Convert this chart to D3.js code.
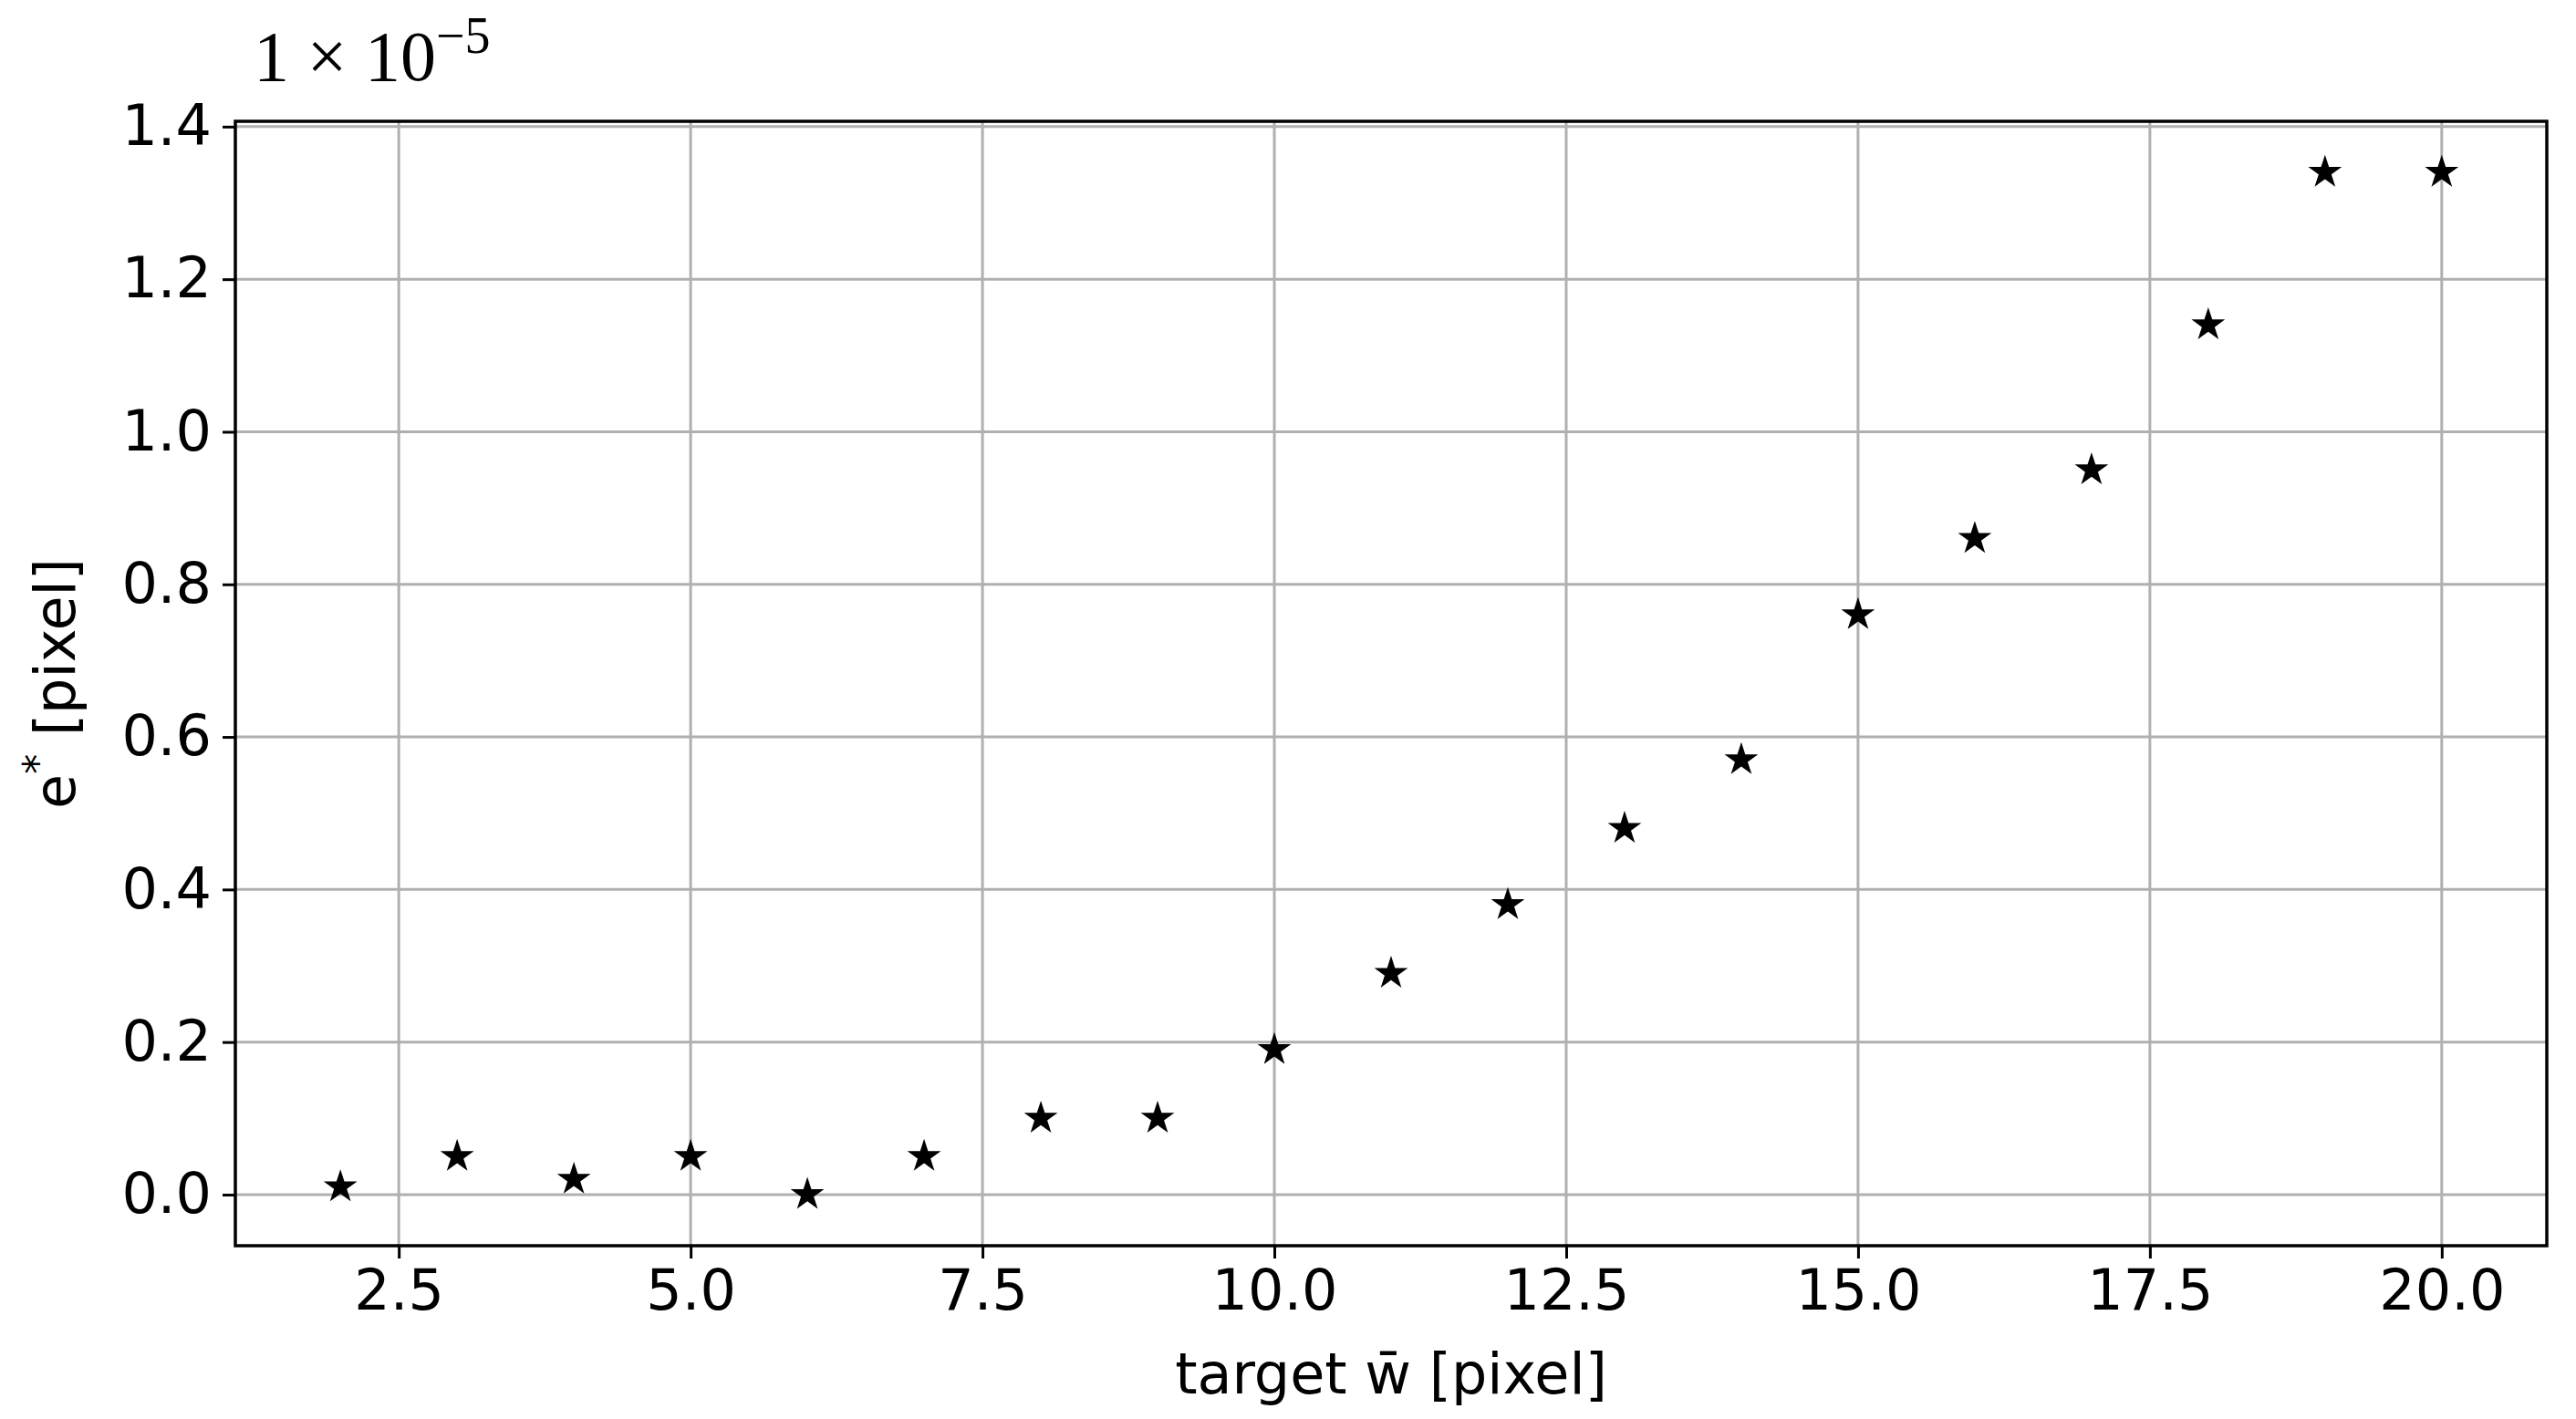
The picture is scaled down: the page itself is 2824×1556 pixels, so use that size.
<!DOCTYPE html>
<head>
<meta charset="utf-8">
<style>
  body { margin: 0; background: #fff; }
  text { font-family: "DejaVu Sans", sans-serif; }
</style>
</head>
<body>
<svg width="2824" height="1556"></svg>
<script src="https://cdn.jsdelivr.net/npm/d3@7"></script>
<script>
var widths = [2, 3, 4, 5, 6, 7, 8, 9, 10, 11, 12, 13, 14, 15, 16, 17, 18, 19, 20];
var errors = [0.01, 0.05, 0.02, 0.05, 0.0, 0.05, 0.10, 0.10, 0.19, 0.29, 0.38, 0.48, 0.57, 0.76, 0.86, 0.95, 1.14, 1.34, 1.34];
var xTicks = [2.5, 5.0, 7.5, 10.0, 12.5, 15.0, 17.5, 20.0];
var yTicks = [0.0, 0.2, 0.4, 0.6, 0.8, 1.0, 1.2, 1.4];

var svg = d3.select('svg'),
    pLeft = 258, pRight = 2792, pTop = 133, pBottom = 1366;

var x = d3.scaleLinear().domain([1.1, 20.9]).range([pLeft, pRight]);
var y = d3.scaleLinear().domain([-0.067, 1.407]).range([pBottom, pTop]);

// grid
svg.append('g').selectAll('line').data(xTicks).enter().append('line')
    .attr('x1', d => x(d)).attr('x2', d => x(d)).attr('y1', pTop).attr('y2', pBottom)
    .attr('stroke', '#b0b0b0').attr('stroke-width', 3);
svg.append('g').selectAll('line').data(yTicks).enter().append('line')
    .attr('y1', d => y(d)).attr('y2', d => y(d)).attr('x1', pLeft).attr('x2', pRight)
    .attr('stroke', '#b0b0b0').attr('stroke-width', 3);

// axes
var xAxis = svg.append('g').attr('transform', `translate(0,${pBottom})`)
    .call(d3.axisBottom(x).tickValues(xTicks).tickFormat(d3.format('.1f')).tickSize(14).tickPadding(12));
var yAxis = svg.append('g').attr('transform', `translate(${pLeft},0)`)
    .call(d3.axisLeft(y).tickValues(yTicks).tickFormat(d3.format('.1f')).tickSize(14).tickPadding(12));
[xAxis, yAxis].forEach(a => {
    a.select('.domain').remove();
    a.selectAll('line').attr('stroke', '#000').attr('stroke-width', 3);
    a.selectAll('text').attr('font-size', 62).attr('fill', '#000')
        .style('font-family', '"DejaVu Sans", sans-serif');
});

svg.append('rect').attr('x', pLeft).attr('y', pTop)
    .attr('width', pRight - pLeft).attr('height', pBottom - pTop)
    .attr('fill', 'none').attr('stroke', '#000').attr('stroke-width', 3.5);

// points
svg.append('g').selectAll('path').data(widths).enter().append('path')
    .attr('transform', (d, i) => `translate(${x(d)},${y(errors[i])})`)
    .attr('d', d3.symbol().type(d3.symbolStar).size(420))
    .attr('fill', '#000');

// offset label
var off = svg.append('text').attr('x', 278).attr('y', 88)
    .style('font-family', '"Liberation Serif", serif').attr('font-size', 78);
off.append('tspan').text('1 × 10');
off.append('tspan').attr('dy', -30).attr('font-size', 56).text('−5');

// axis labels
svg.append('text').attr('x', (pLeft + pRight) / 2).attr('y', 1528)
    .attr('text-anchor', 'middle').attr('font-size', 62).text('target w̄ [pixel]');
var yl = svg.append('text').attr('transform', `translate(82,${(pTop + pBottom) / 2}) rotate(-90)`)
    .attr('text-anchor', 'middle').attr('font-size', 62);
yl.append('tspan').text('e');
yl.append('tspan').attr('dy', -25).attr('font-size', 44).text('*');
yl.append('tspan').attr('dy', 25).text('  [pixel]');
</script>
</body>
